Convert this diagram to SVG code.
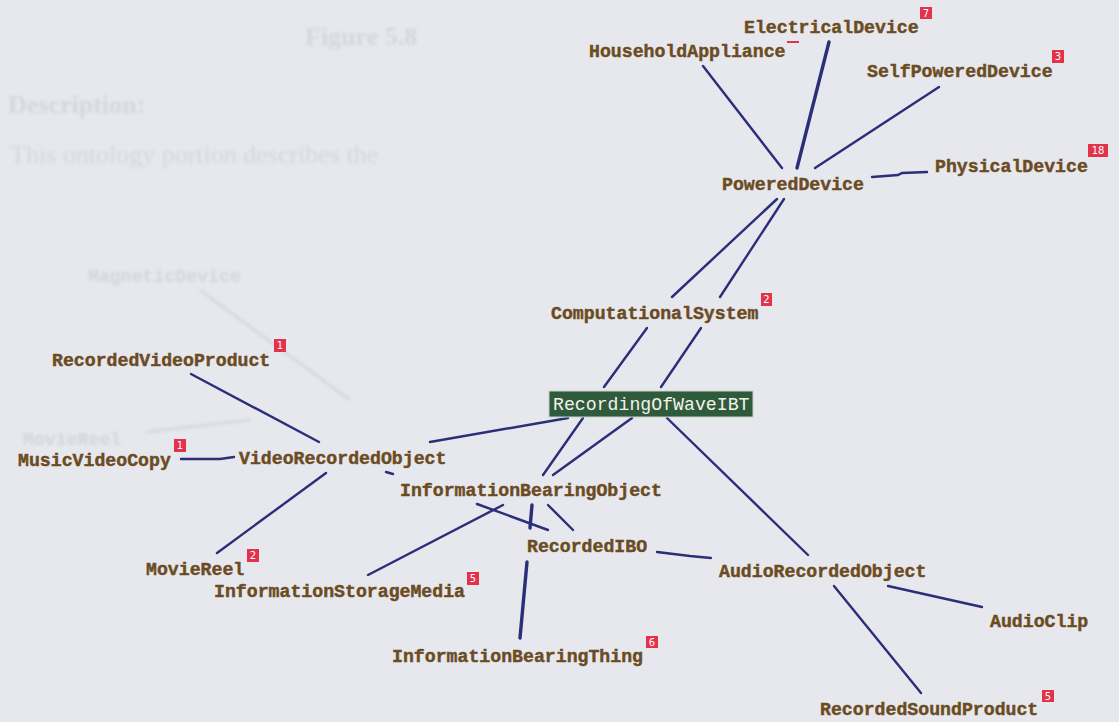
<svg xmlns="http://www.w3.org/2000/svg" width="1119" height="722" viewBox="0 0 1119 722">
  <defs>
    <filter id="soft" x="-5%" y="-50%" width="110%" height="200%">
      <feGaussianBlur stdDeviation="1.6"/>
    </filter>
    <style>
      .bg { fill: #e7e7ee; }
      .ghost { font-family: "Liberation Serif", serif; font-size: 26px; fill: #d5d5dc; }
      .ghostmono { font-family: "Liberation Mono", monospace; font-weight: bold; font-size: 18.2px; fill: #d4d4dc; }
      .ghostline { stroke: #d4d6de; stroke-width: 2.5; fill: none; }
      .lbl { font-family: "Liberation Mono", "DejaVu Sans Mono", monospace; font-weight: bold; font-size: 18.2px; fill: #6b4c22; stroke: #6b4c22; stroke-width: 0.45; }
      .sel { fill: #2f5b3c; stroke: #c9d3c8; stroke-width: 1; }
      .seltxt { font-family: "Liberation Mono", "DejaVu Sans Mono", monospace; font-size: 18.2px; fill: #f2f2ea; }
      .badge { fill: #e2334b; }
      .num { font-family: "DejaVu Sans", sans-serif; font-size: 10px; fill: #ffffff; text-anchor: middle; }
      .edge { stroke: #2b2e78; stroke-width: 2.4; fill: none; stroke-linecap: round; }
      .thick { stroke-width: 3.4; }
    </style>
  </defs>

  <rect class="bg" x="0" y="0" width="1119" height="722"/>

  <!-- faint page text behind the graph -->
  <g id="backdrop" filter="url(#soft)">
    <text class="ghost" x="305" y="45" font-weight="bold">Figure 5.8</text>
    <text class="ghost" x="8" y="113" font-weight="bold">Description:</text>
    <text class="ghost" x="10" y="163">This ontology portion describes the</text>
    <text class="ghostmono" x="88" y="282">MagneticDevice</text>
    <text class="ghostmono" x="23" y="445">MovieReel</text>
    <line class="ghostline" x1="200" y1="290" x2="350" y2="400"/>
    <line class="ghostline" x1="146" y1="432" x2="250" y2="420"/>
  </g>

  <!-- connectors -->
  <g id="connectors">
    <line class="edge" x1="703" y1="66" x2="782" y2="168"/>
    <line class="edge thick" x1="829" y1="42" x2="797" y2="168"/>
    <line class="edge" x1="939" y1="87" x2="815" y2="168"/>
    <polyline class="edge" points="927,172 902,173 898,175 872,177"/>
    <line class="edge" x1="777" y1="199" x2="672" y2="297"/>
    <line class="edge" x1="784" y1="199" x2="720" y2="297"/>
    <line class="edge" x1="701" y1="328" x2="661" y2="387"/>
    <line class="edge" x1="647" y1="328" x2="604" y2="387"/>
    <line class="edge" x1="583" y1="418" x2="543" y2="475"/>
    <line class="edge" x1="632" y1="418" x2="553" y2="475"/>
    <line class="edge" x1="568" y1="418" x2="430" y2="442"/>
    <line class="edge" x1="667" y1="418" x2="808" y2="555"/>
    <line class="edge" x1="386" y1="472" x2="393" y2="474"/>
    <line class="edge" x1="191" y1="374" x2="319" y2="442"/>
    <polyline class="edge" points="181,459 220,459 234,457"/>
    <line class="edge" x1="326" y1="473" x2="217" y2="553"/>
    <line class="edge" x1="503" y1="505" x2="368" y2="575"/>
    <line class="edge" x1="477" y1="504" x2="548" y2="530"/>
    <line class="edge thick" x1="532" y1="505" x2="530" y2="528"/>
    <line class="edge" x1="548" y1="505" x2="573" y2="530"/>
    <line class="edge thick" x1="527" y1="562" x2="520" y2="638"/>
    <polyline class="edge" points="657,552 690,556 711,558"/>
    <line class="edge" x1="888" y1="586" x2="982" y2="607"/>
    <line class="edge" x1="834" y1="586" x2="921" y2="693"/>
    <line x1="787" y1="42" x2="799" y2="42" stroke="#e0364a" stroke-width="2"/>
  </g>

  <!-- nodes -->
  <g id="ElectricalDevice">
    <text class="lbl" x="744" y="33">ElectricalDevice</text>
    <rect class="badge" x="920" y="7" width="12" height="12"/><text class="num" x="926" y="17">7</text>
  </g>
  <g id="HouseholdAppliance">
    <text class="lbl" x="589" y="57">HouseholdAppliance</text>
  </g>
  <g id="SelfPoweredDevice">
    <text class="lbl" x="867" y="77">SelfPoweredDevice</text>
    <rect class="badge" x="1052" y="50" width="12" height="13"/><text class="num" x="1058" y="60">3</text>
  </g>
  <g id="PhysicalDevice">
    <text class="lbl" x="935" y="172">PhysicalDevice</text>
    <rect class="badge" x="1088" y="144" width="20" height="13"/><text class="num" x="1098" y="154">18</text>
  </g>
  <g id="PoweredDevice">
    <text class="lbl" x="722" y="190">PoweredDevice</text>
  </g>
  <g id="ComputationalSystem">
    <text class="lbl" x="551" y="319">ComputationalSystem</text>
    <rect class="badge" x="761" y="293" width="11" height="13"/><text class="num" x="766.5" y="303">2</text>
  </g>
  <g id="RecordingOfWaveIBT">
    <rect class="sel" x="549" y="391" width="204" height="26"/>
    <text class="seltxt" x="553" y="410">RecordingOfWaveIBT</text>
  </g>
  <g id="RecordedVideoProduct">
    <text class="lbl" x="52" y="366">RecordedVideoProduct</text>
    <rect class="badge" x="274" y="339" width="12" height="13"/><text class="num" x="280" y="349">1</text>
  </g>
  <g id="MusicVideoCopy">
    <text class="lbl" x="18" y="466">MusicVideoCopy</text>
    <rect class="badge" x="174" y="439" width="12" height="13"/><text class="num" x="180" y="449">1</text>
  </g>
  <g id="VideoRecordedObject">
    <text class="lbl" x="239" y="464">VideoRecordedObject</text>
  </g>
  <g id="InformationBearingObject">
    <text class="lbl" x="400" y="496">InformationBearingObject</text>
  </g>
  <g id="MovieReel">
    <text class="lbl" x="146" y="575">MovieReel</text>
    <rect class="badge" x="247" y="549" width="12" height="13"/><text class="num" x="253" y="559">2</text>
  </g>
  <g id="InformationStorageMedia">
    <text class="lbl" x="214" y="597">InformationStorageMedia</text>
    <rect class="badge" x="467" y="572" width="12" height="13"/><text class="num" x="473" y="582">5</text>
  </g>
  <g id="RecordedIBO">
    <text class="lbl" x="527" y="552">RecordedIBO</text>
  </g>
  <g id="AudioRecordedObject">
    <text class="lbl" x="719" y="577">AudioRecordedObject</text>
  </g>
  <g id="AudioClip">
    <text class="lbl" x="990" y="627">AudioClip</text>
  </g>
  <g id="InformationBearingThing">
    <text class="lbl" x="392" y="662">InformationBearingThing</text>
    <rect class="badge" x="646" y="636" width="12" height="12"/><text class="num" x="652" y="646">6</text>
  </g>
  <g id="RecordedSoundProduct">
    <text class="lbl" x="820" y="715">RecordedSoundProduct</text>
    <rect class="badge" x="1042" y="690" width="12" height="12"/><text class="num" x="1048" y="700">5</text>
  </g>
</svg>
